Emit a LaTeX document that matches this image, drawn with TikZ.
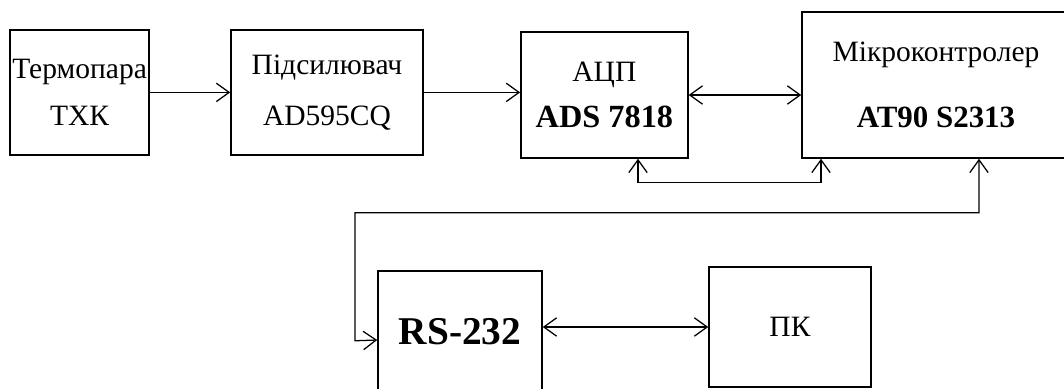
\documentclass[tikz,border=0pt]{standalone}
\usepackage{fontspec}
\setmainfont{Liberation Serif}
\usepackage{tikz}
\usetikzlibrary{arrows.meta, positioning}

\begin{document}
\begin{tikzpicture}[
    >={Straight Barb[length=3.2mm, width=4.6mm]},
    % Block boxes
    block/.style={
        rectangle, draw=black, line width=1.1pt, fill=white,
        inner sep=0pt, align=center,
        font=\fontsize{21}{33}\selectfont
    },
    % Arrow
    arr/.style={->, line width=0.9pt, black},
    % Two-way arrow
    biarr/.style={<->, line width=0.9pt, black},
]
\useasboundingbox (0,0) rectangle (26.6,-9.725);

% ===== TOP ROW =====
\node[block, minimum width=3.475cm, minimum height=3.125cm] (therm) at (1.99, -2.31)
    {Термопара \\ ТХК};

\node[block, minimum width=4.8cm, minimum height=3.125cm] (amp) at (8.175, -2.31)
    {Підсилювач \\[3pt] AD595CQ};

\node[block, minimum width=4.175cm, minimum height=3.15cm] (adc) at (15.11, -2.375)
    {АЦП \\ {\fontsize{23}{33}\selectfont\bfseries ADS 7818}};

\node[block, minimum width=6.7cm, minimum height=3.65cm] (mcu) at (23.4, -2.125)
    {Мікроконтролер \\[14pt] {\fontsize{22}{33}\selectfont\bfseries AT90 S2313\hspace{0.7cm}}};

\draw[arr] (therm.east) -- (amp.west);
\draw[arr] (amp.east) -- (amp.east -| adc.west);
\draw[biarr] (adc.east) -- (adc.east -| mcu.west);

% ===== BOTTOM ROW =====
% box runs past the lower edge of the page
\node[block, minimum width=4.1cm, minimum height=3.3cm, text depth=0.3cm] (rs) at (11.5, -8.425)
    {\fontsize{28}{33}\selectfont\bfseries RS-232};

\node[block, minimum width=4.05cm, minimum height=3cm] (pc) at (19.75, -8.175)
    {ПК};

\draw[biarr] (pc.west -| rs.east) -- (pc.west);

% ADC <-> MCU control lines
\draw[biarr] ([xshift=0.84cm]adc.south) -- ++(0,-0.6) -| ([xshift=-2.875cm]mcu.south);

% MCU <-> RS-232
\draw[biarr] ([xshift=1.075cm]mcu.south) -- ++(0,-1.35) -| ++(-15.6,-3.2)
    -- (rs.west |- 8.875,-8.5);

\end{tikzpicture}
\end{document}
